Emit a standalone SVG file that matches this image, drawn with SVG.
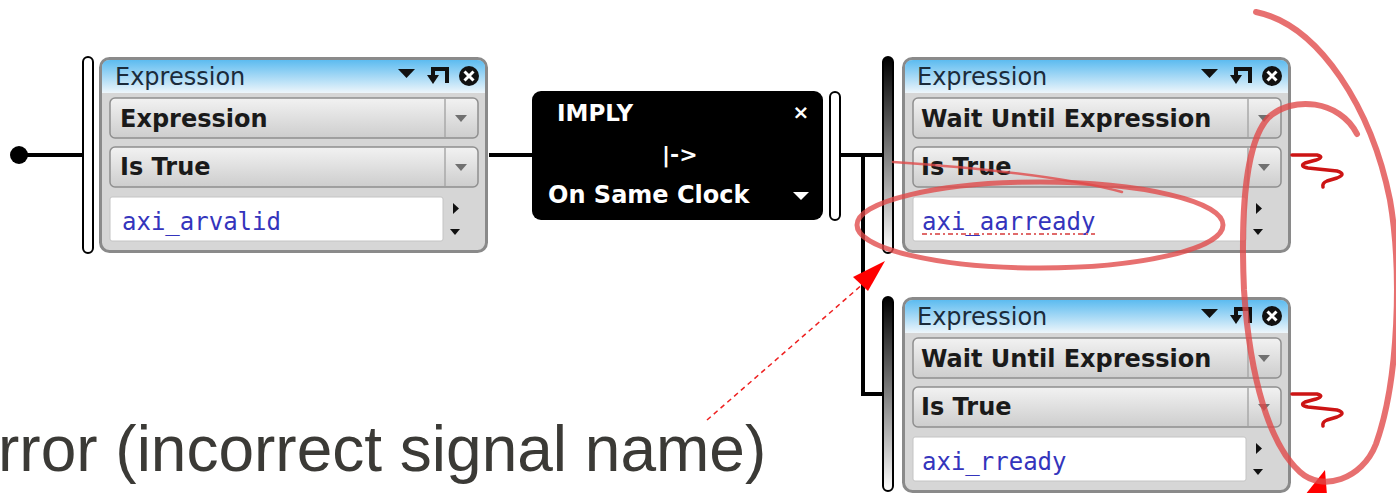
<svg xmlns="http://www.w3.org/2000/svg" xmlns:xlink="http://www.w3.org/1999/xlink" width="1396" height="493" viewBox="0 0 1396 493">
<style>
.ui{font-family:"DejaVu Sans","Liberation Sans",sans-serif}
.hdr{font-size:24px;fill:#1b2b3b}
.row{font-size:24px;font-weight:bold;fill:#1a1a1a}
.fld{font-family:"DejaVu Sans Mono","Liberation Mono",monospace;font-size:24px;fill:#3434bc}
.wht{fill:#fff;font-weight:bold}
.conn{stroke:#000;stroke-width:4;fill:none}
.bar{stroke:#000;stroke-width:2}
.pen{fill:none;stroke:#e04848;stroke-opacity:.78;stroke-linecap:round;stroke-linejoin:round}
.squig{fill:none;stroke:#cc1414;stroke-width:3.5;stroke-linecap:round;stroke-linejoin:round}
</style>
<defs>
<linearGradient id="hdrg" gradientUnits="userSpaceOnUse" x1="0" y1="0" x2="0" y2="36">
<stop offset="0" stop-color="#4fb6ef"/><stop offset="1" stop-color="#eef6fb"/>
</linearGradient>
<linearGradient id="rowg" x1="0" y1="0" x2="0" y2="1">
<stop offset="0" stop-color="#f2f2f2"/><stop offset="1" stop-color="#cdcdcd"/>
</linearGradient>
<linearGradient id="barg" x1="0" y1="0" x2="0" y2="1">
<stop offset="0" stop-color="#000"/><stop offset="1" stop-color="#fff"/>
</linearGradient>
<g id="panel">
<rect x="1.5" y="1.5" width="386" height="193" rx="9" fill="#d6d6d6" stroke="#8a8a8a" stroke-width="3"/>
<path d="M3,36 V11 Q3,3 11,3 H378 Q386,3 386,11 V36 Z" fill="url(#hdrg)"/>
<polygon points="299,12 316,12 307.5,21" fill="#111"/>
<path d="M348,26 V12 H334 V19" fill="none" stroke="#111" stroke-width="4"/>
<polygon points="328,18 340,18 334,27" fill="#111"/>
<circle cx="370" cy="19" r="10" fill="#111"/>
<path d="M365.5,14.5 L374.5,23.5 M374.5,14.5 L365.5,23.5" stroke="#fff" stroke-width="3"/>
<rect x="11" y="41" width="368" height="40" rx="5" fill="url(#rowg)" stroke="#8f8f8f" stroke-width="1.5"/>
<line x1="346" y1="42" x2="346" y2="80" stroke="#a9a9a9" stroke-width="1.5"/>
<polygon points="356,58 368,58 362,65" fill="#707070"/>
<rect x="11" y="90" width="368" height="40" rx="5" fill="url(#rowg)" stroke="#8f8f8f" stroke-width="1.5"/>
<line x1="346" y1="91" x2="346" y2="129" stroke="#a9a9a9" stroke-width="1.5"/>
<polygon points="356,107 368,107 362,114" fill="#707070"/>
<rect x="11" y="140" width="333" height="44" rx="2" fill="#fff" stroke="#c4c4c4" stroke-width="1"/>
<polygon points="354,146 354,157 360,151.5" fill="#111"/>
<polygon points="351,172 361,172 356,178" fill="#111"/>
</g>
</defs>
<rect width="1396" height="493" fill="#fff"/>

<g id="connectors">
<circle cx="19" cy="155" r="9" fill="#000"/>
<line class="conn" x1="19" y1="155" x2="83" y2="155"/>
<line class="conn" x1="489" y1="155" x2="532" y2="155"/>
<line class="conn" x1="840" y1="155" x2="883" y2="155"/>
<polyline class="conn" points="863,155 863,394 883,394"/>
</g>

<g id="node-expr1" class="ui">
<rect class="bar" x="83" y="57" width="10" height="196" rx="5" fill="#fff"/>
<use xlink:href="#panel" transform="translate(99,57)"/>
<text class="hdr" x="115" y="85">Expression</text>
<text class="row" x="120" y="127">Expression</text>
<text class="row" x="120" y="175">Is True</text>
<text class="fld" x="122" y="230">axi_arvalid</text>
</g>

<g id="node-imply" class="ui">
<rect x="532" y="91" width="291" height="129" rx="9" fill="#000"/>
<text class="wht" x="557" y="121" font-size="23">IMPLY</text>
<text class="wht" x="801" y="119" font-size="20" text-anchor="middle">×</text>
<text class="wht" x="662" y="162" font-size="22">|-&gt;</text>
<text class="wht" x="548" y="203" font-size="24">On Same Clock</text>
<polygon points="793,192 809,192 801,200" fill="#fff"/>
<rect class="bar" x="830" y="92" width="10" height="128" rx="5" fill="#fff"/>
</g>

<g id="node-expr2" class="ui">
<rect class="bar" x="883" y="57" width="10" height="196" rx="5" fill="url(#barg)"/>
<use xlink:href="#panel" transform="translate(902,57)"/>
<text class="hdr" x="917" y="85">Expression</text>
<text class="row" x="921" y="127">Wait Until Expression</text>
<text class="row" x="921" y="175">Is True</text>
<text class="fld" x="922" y="230">axi_aarready</text>
<line x1="922" y1="234" x2="1095" y2="234" stroke="#e06a6a" stroke-width="2" stroke-dasharray="5,3,2,3"/>
</g>

<g id="node-expr3" class="ui">
<rect class="bar" x="883" y="297" width="10" height="194" rx="5" fill="url(#barg)"/>
<use xlink:href="#panel" transform="translate(902,297)"/>
<text class="hdr" x="917" y="325">Expression</text>
<text class="row" x="921" y="367">Wait Until Expression</text>
<text class="row" x="921" y="415">Is True</text>
<text class="fld" x="922" y="470">axi_rready</text>
</g>

<g id="annotations">
<text x="-2" y="471" font-family="'Liberation Sans',Arial,sans-serif" font-size="64" fill="#3b3a36">rror (incorrect signal name)</text>
<line x1="707" y1="420" x2="864" y2="283" stroke="#ee2020" stroke-width="1.5" stroke-dasharray="5,4"/>
<polygon points="885,261 853,277 868,291" fill="#ff0000"/>
<polygon points="1325,470 1305,495 1327,495" fill="#ff0000"/>
<path class="pen" stroke-width="2.5" d="M893,162 C980,168 1070,178 1122,192"/>
<ellipse class="pen" stroke-width="5" cx="1040" cy="225" rx="183" ry="43"/>
<path class="pen" stroke-width="6" d="M1256,12 C1320,25 1372,110 1390,200 C1402,270 1399,380 1376,444 C1362,480 1322,492 1300,472 C1270,445 1250,380 1244,290 C1240,200 1248,140 1268,118 C1292,95 1340,100 1357,134"/>
<path class="squig" d="M1292,155 H1317 Q1325,157 1316,160 L1305,163 Q1299,166 1308,168 L1337,171 Q1347,174 1337,178 L1327,181 Q1322,183 1323,187"/>
<path class="squig" d="M1292,394 H1317 Q1325,396 1316,399 L1305,402 Q1299,405 1308,407 L1337,410 Q1347,413 1337,417 L1327,420 Q1322,422 1323,426"/>
</g>
</svg>
